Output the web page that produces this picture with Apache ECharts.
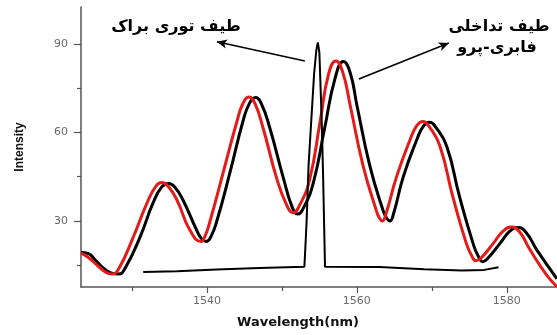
<!DOCTYPE html>
<html>
<head>
<meta charset="utf-8">
<script src="https://cdn.jsdelivr.net/npm/echarts@6/dist/echarts.min.js"></script>
<style>html,body{margin:0;padding:0;background:#fff}#c{width:557px;height:335px}</style>
</head>
<body>
<div id="c"></div>
<script>
// Fabry-Perot interference spectrum (red)
const redSpectrum = [[1523.2,19.1],[1524.2,17.6],[1525.3,15.1],[1526.5,12.6],[1527.3,12.0],[1528.2,13.6],[1530.2,24.7],[1532.0,36.0],[1533.2,41.8],[1534.0,43.0],[1534.8,41.8],[1536.0,37.1],[1537.7,27.0],[1539.2,23.0],[1539.8,25.2],[1540.4,29.8],[1542.2,46.7],[1544.0,63.7],[1544.8,69.8],[1545.6,72.0],[1546.4,69.8],[1547.5,61.4],[1549.3,44.5],[1550.6,35.6],[1551.5,32.8],[1552.4,35.5],[1553.7,44.0],[1555.1,63.7],[1556.2,79.5],[1557.2,84.2],[1558.1,80.5],[1559.1,69.3],[1560.8,49.0],[1562.6,33.5],[1563.0,31.0],[1563.4,30.0],[1563.9,32.5],[1565.3,45.0],[1567.1,57.5],[1568.0,62.3],[1568.8,63.7],[1569.7,61.8],[1571.1,55.2],[1572.8,38.2],[1574.6,22.4],[1575.3,18.3],[1575.9,16.5],[1576.6,17.5],[1578.2,22.4],[1579.5,26.5],[1580.6,27.9],[1581.7,26.3],[1583.1,20.2],[1585.3,11.7],[1586.7,7.7]];
// Fabry-Perot interference spectrum (black)
const blackSpectrum = [[1523.2,19.3],[1524.2,18.9],[1525.2,16.5],[1526.2,14.0],[1527.3,12.3],[1528.2,12.0],[1529.1,14.0],[1531.1,24.7],[1532.8,36.0],[1534.0,41.6],[1534.9,42.7],[1535.7,41.5],[1536.8,37.1],[1538.6,27.0],[1539.3,23.9],[1539.9,23.0],[1540.5,24.5],[1541.3,29.8],[1543.1,46.7],[1544.8,63.7],[1545.7,70.0],[1546.5,71.8],[1547.3,69.5],[1548.4,61.4],[1550.2,44.5],[1551.4,34.5],[1552.1,32.3],[1552.9,34.5],[1554.2,43.0],[1555.7,61.4],[1557.1,78.4],[1558.2,84.0],[1559.1,80.3],[1560.0,69.3],[1561.7,49.0],[1563.5,33.5],[1564.0,30.8],[1564.4,30.0],[1564.9,32.5],[1566.2,45.0],[1568.0,57.5],[1568.9,62.2],[1569.7,63.4],[1570.6,61.5],[1572.0,55.2],[1573.7,38.2],[1575.5,22.4],[1576.2,18.0],[1576.8,16.2],[1577.5,17.4],[1579.1,22.4],[1580.4,26.5],[1581.5,27.8],[1582.6,26.0],[1584.0,20.2],[1586.7,10.4]];
// Bragg grating spectrum
const braggSpectrum = [[1531.5,12.7],[1536.0,12.9],[1541.3,13.5],[1547.0,14.0],[1553.0,14.5],[1553.15,22],[1553.3,30],[1553.56,49],[1554.3,80],[1554.6,88],[1554.8,90.5],[1555.0,87],[1555.3,65],[1555.5,45],[1555.75,14.5],[1563.0,14.4],[1569.0,13.6],[1574.0,13.2],[1577.0,13.4],[1578.9,14.3]];
// annotation arrows (data coords): [from, to]
const braggArrow = [[1553.07,84.2],[1541.33,90.7]];
const fpArrow = [[1560.27,78.1],[1572.27,90.3]];
const xMajorTicks = [1540,1560,1580];
const xMinorTicks = [1530,1550,1570];
const yMajorTicks = [30,60,90];
const yMinorTicks = [15,45,75];
const labelBragg = 'طیف توری براک';
const labelFP1 = 'طیف تداخلی';
const labelFP2 = 'فابری-پرو';

const chart = echarts.init(document.getElementById('c'), null, {renderer:'canvas'});
const axisColor = '#555';
const tickFont = {fontFamily:'DejaVu Sans', fontSize:11, color:'#6a6a6a', formatter:(v)=>String(v)};
const xMin = 1523.2, xMax = 1586.7, yMin = 7.6, yMax = 102.5;
function arrowLine(a){
  return [{coord:a[0], symbol:'none'},{coord:a[1], symbol:'arrow', symbolSize:[7,10]}];
}
chart.setOption({
  animation:false,
  backgroundColor:'#fff',
  grid:{left:81, top:7, right:0, bottom:48},
  xAxis:[{
    type:'value', min:xMin, max:xMax, position:'bottom',
    axisLine:{show:true, onZero:false, lineStyle:{color:axisColor, width:1.5}},
    axisTick:{show:true, customValues:xMajorTicks, length:6, lineStyle:{color:axisColor, width:1.2}},
    axisLabel:{customValues:xMajorTicks, margin:9, ...tickFont},
    splitLine:{show:false}
  },{
    type:'value', min:xMin, max:xMax, position:'bottom', offset:0,
    axisLine:{show:false},
    axisTick:{show:true, customValues:xMinorTicks, length:4, lineStyle:{color:axisColor, width:1.2}},
    axisLabel:{show:false}, splitLine:{show:false}
  }],
  yAxis:[{
    type:'value', min:yMin, max:yMax, position:'left',
    axisLine:{show:true, onZero:false, lineStyle:{color:axisColor, width:1.5}},
    axisTick:{show:true, customValues:yMajorTicks, length:7, lineStyle:{color:axisColor, width:1.2}},
    axisLabel:{customValues:yMajorTicks, margin:13, ...tickFont},
    splitLine:{show:false},
    name:'Intensity', nameLocation:'middle', nameGap:55, nameRotate:90,
    nameTextStyle:{fontFamily:'Liberation Sans', fontWeight:'bold', fontSize:12, color:'#111'}
  },{
    type:'value', min:yMin, max:yMax, position:'left', offset:0,
    axisLine:{show:false},
    axisTick:{show:true, customValues:yMinorTicks, length:4, lineStyle:{color:axisColor, width:1.2}},
    axisLabel:{show:false}, splitLine:{show:false}
  }],
  series:[
    {name:'FP black', type:'line', data:blackSpectrum, smooth:0.5, showSymbol:false, symbol:'none',
     lineStyle:{color:'#000', width:3}, z:2},
    {name:'FP red', type:'line', data:redSpectrum, smooth:0.5, showSymbol:false, symbol:'none',
     lineStyle:{color:'#e41b1b', width:3}, z:3},
    {name:'Bragg', type:'line', data:braggSpectrum, smooth:false, showSymbol:false, symbol:'none',
     lineStyle:{color:'#000', width:2}, z:4,
     markLine:{silent:true, animation:false, label:{show:false},
       lineStyle:{color:'#000', width:1.6, type:'solid'},
       emphasis:{disabled:true},
       data:[arrowLine(braggArrow), arrowLine(fpArrow)]}
    }
  ],
  graphic:[
    {type:'text', x:176, y:27, style:{text:labelBragg, fontFamily:'DejaVu Sans', fontWeight:'bold', fontSize:16, fill:'#000', align:'center', verticalAlign:'middle'}},
    {type:'text', x:499, y:27, style:{text:labelFP1, fontFamily:'DejaVu Sans', fontWeight:'bold', fontSize:16, fill:'#000', align:'center', verticalAlign:'middle'}},
    {type:'text', x:497, y:48, style:{text:labelFP2, fontFamily:'DejaVu Sans', fontWeight:'bold', fontSize:16, fill:'#000', align:'center', verticalAlign:'middle'}},
    {type:'text', x:298, y:323, style:{text:'Wavelength(nm)', fontFamily:'DejaVu Sans', fontWeight:'bold', fontSize:13, fill:'#111', align:'center', verticalAlign:'middle'}}
  ]
});
</script>
</body>
</html>
